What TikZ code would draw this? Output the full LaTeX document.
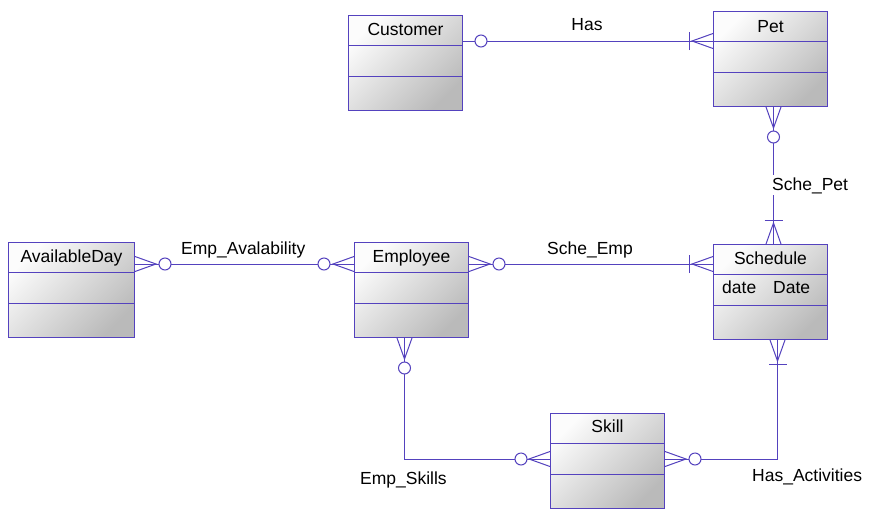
\documentclass[tikz,border=0pt]{standalone}
\usepackage{fontspec}
\setmainfont{Liberation Sans}
\usetikzlibrary{calc}
\definecolor{lc}{RGB}{84,66,190}
\definecolor{boxgray}{RGB}{186,186,186}
\definecolor{boxlight}{RGB}{252,252,252}
\newcommand{\ercrow}[2]{\draw[cl] ($(#1)+(#2+90:7.5pt)$) -- ($(#1)+(#2:21pt)$) -- ($(#1)+(#2-90:7.5pt)$);}
\newcommand{\ercirc}[3]{\draw[cl,fill=white] ($(#1)+(#2:#3)$) circle[radius=6pt];}
\newcommand{\erbar}[2]{\draw[cl] ($(#1)+(#2:24pt)+(#2+90:9pt)$) -- ($(#1)+(#2:24pt)+(#2-90:9pt)$);}
\tikzset{
  cl/.style={draw=lc, line width=1pt},
  ent/.style={draw=lc, line width=1pt, top color=boxlight, bottom color=boxgray, shading angle=45,
    minimum width=114pt, minimum height=95pt, inner sep=0pt, anchor=north west},
  ttl/.style={font=\fontsize{17.5}{20}\selectfont, anchor=base, inner sep=0pt},
  lbl/.style={font=\fontsize{17.5}{20}\selectfont, anchor=base west, inner sep=0pt},
}
\begin{document}
\begin{tikzpicture}[x=1pt,y=-1pt]
\useasboundingbox (0,0) rectangle (873,515);
\fill[white] (0,0) rectangle (873,515);
% entities
\node[ent] (cust) at (348,15) {};
\node[ent] (pet) at (713,11) {};
\node[ent] (sch) at (713,244) {};
\node[ent] (emp) at (354,242) {};
\node[ent, minimum width=126pt] (av) at (8,242) {};
\node[ent] (skl) at (550,413) {};
\foreach \n in {cust,pet,sch,emp,av,skl}{
  \draw[cl] ($(\n.north west)+(0,30)$) -- ($(\n.north east)+(0,30)$);
  \draw[cl] ($(\n.north west)+(0,61)$) -- ($(\n.north east)+(0,61)$);
}
\node[ttl] (tcust) at ($(cust.north)+(0,20)$) {Customer};
\node[ttl] (tpet) at ($(pet.north)+(0,21)$) {Pet};
\node[ttl] (tsch) at ($(sch.north)+(0,20)$) {Schedule};
\node[ttl] (temp) at ($(emp.north)+(0,20)$) {Employee};
\node[ttl] (tav) at ($(av.north)+(0,20)$) {AvailableDay};
\node[ttl] (tskl) at ($(skl.north)+(0,19)$) {Skill};
\node[lbl] (adate) at ($(sch.north west)+(9,49)$) {date};
\node[lbl] (atype) at ($(sch.north west)+(60,49)$) {Date};
% connection points
\coordinate (custE) at ($(cust.north east)+(0,26)$);
\coordinate (petW) at ($(pet.north west)+(0,30)$);
\coordinate (petS) at ($(pet.south)+(3,0)$);
\coordinate (schN) at ($(sch.north)+(3,0)$);
\coordinate (schW) at ($(sch.north west)+(0,20)$);
\coordinate (empE) at ($(emp.north east)+(0,22)$);
\coordinate (empW) at ($(emp.north west)+(0,22)$);
\coordinate (avE) at ($(av.north east)+(0,22)$);
\coordinate (empS) at ($(emp.south)+(-7,0)$);
\coordinate (sklW) at ($(skl.north west)+(0,46)$);
\coordinate (sklE) at ($(skl.north east)+(0,46)$);
\coordinate (schS) at ($(sch.south)+(7,0)$);
% connectors
\draw[cl] (custE) -- (petW);
\draw[cl] (petS) -- (schN);
\draw[cl] (empE) -- (schW);
\draw[cl] (avE) -- (empW);
\draw[cl] (empS) |- (sklW);
\draw[cl] (sklE) -| (schS);
% ends
\ercirc{custE}{0}{18pt}
\ercrow{petW}{180}\erbar{petW}{180}
\ercrow{petS}{270}\ercirc{petS}{270}{30pt}
\ercrow{schN}{90}\erbar{schN}{90}
\ercrow{empE}{0}\ercirc{empE}{0}{30pt}
\ercrow{schW}{180}\erbar{schW}{180}
\ercrow{avE}{0}\ercirc{avE}{0}{30pt}
\ercrow{empW}{180}\ercirc{empW}{180}{30pt}
\ercrow{empS}{270}\ercirc{empS}{270}{30pt}
\ercrow{sklW}{180}\ercirc{sklW}{180}{29pt}
\ercrow{sklE}{0}\ercirc{sklE}{0}{30pt}
\ercrow{schS}{270}\erbar{schS}{270}
% labels
\node[ttl] (lhas) at (587,30) {Has};
\node[ttl] (lsemp) at (590,254) {Sche\_Emp};
\node[lbl] (lavail) at (181,254) {Emp\_Avalability};
\node[lbl, fill=white, inner xsep=2pt, inner ysep=2pt] (lspet) at (770,190) {Sche\_Pet};
\node[lbl] (lskills) at (360,484) {Emp\_Skills};
\node[lbl] (lact) at (752,481) {Has\_Activities};
\end{tikzpicture}
\end{document}
